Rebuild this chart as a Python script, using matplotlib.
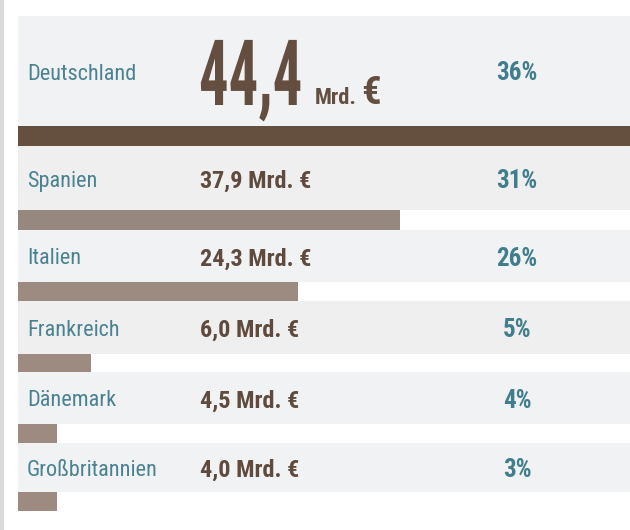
import matplotlib.pyplot as plt
from matplotlib import font_manager
from matplotlib.patheffects import AbstractPathEffect
from matplotlib.transforms import Affine2D

countries = ["Deutschland", "Spanien", "Italien", "Frankreich", "Dänemark", "Großbritannien"]
values = [44.4, 37.9, 24.3, 6.0, 4.5, 4.0]
shares = [36, 31, 26, 5, 4, 3]
# bar lengths, in % of the panel width
bar_len = [100, 62.4, 45.8, 11.9, 6.4, 6.4]

# row layout in pixels (top of the grey band, band height, bar height)
row_top = [16, 146, 230, 301, 372, 443]
row_h = [110, 64, 52, 53, 52, 49]
bar_h = [20, 20, 19, 18, 19, 19]

bg_colors = ["#f1f2f4", "#efefef", "#f1f2f4", "#efefef", "#f1f2f4", "#f1f2f4"]
bar_colors = ["#65503f", "#96887e", "#9d8a80", "#9d8a80", "#9d8a80", "#9d8a80"]
teal = "#4a8291"
brown = "#5f4a3d"

installed = {f.name for f in font_manager.fontManager.ttflist}


def pick(*names):
    for n in names:
        if n in installed:
            return n
    return "DejaVu Sans"


narrow = pick("Roboto Condensed", "Liberation Sans Narrow", "Noto Sans Condensed",
              "Open Sans Condensed", "DejaVu Sans")


class Stretch(AbstractPathEffect):
    """draw text glyphs stretched vertically around a display y position"""

    def __init__(self, sy, y_anchor):
        super().__init__()
        self.sy = sy
        self.ya = y_anchor

    def draw_path(self, renderer, gc, tpath, affine, rgbFace=None):
        t = affine + Affine2D().translate(0, -self.ya).scale(1, self.sy).translate(0, self.ya)
        renderer.draw_path(gc, tpath, t, rgbFace)


W, H = 630, 530
fig = plt.figure(figsize=(W / 100, H / 100), dpi=100)

# panel axes: bars on a 0..100 scale
x0 = 18
axb = fig.add_axes([x0 / W, 0, (W - x0) / W, 1])
axb.set_xlim(0, 100)
axb.set_ylim(H, 0)
axb.axis("off")

# layout axes in pixel coordinates, on top for the texts
ax = fig.add_axes([0, 0, 1, 1])
ax.set_xlim(0, W)
ax.set_ylim(H, 0)
ax.axis("off")
ax.set_zorder(3)

axb.barh(row_top, [100] * len(row_top), height=row_h, left=0, align="edge",
         color=bg_colors, linewidth=0, zorder=1)
bar_top = [t + h for t, h in zip(row_top, row_h)]
axb.barh(bar_top, bar_len, height=bar_h, left=0, align="edge",
         color=bar_colors, linewidth=0, zorder=2)

# left grey border
ax.axvline(1.5, color="#d9d9d9", lw=3, zorder=0)

for i, (c, v, s) in enumerate(zip(countries, values, shares)):
    yc = row_top[i] + row_h[i] / 2
    ax.text(27, yc + 8.5, c, fontsize=16, color=teal, family=narrow,
            va="baseline", ha="left", zorder=5)
    ax.text(517, yc + 9.5, f"{s}%", fontsize=18, color="#407e8d", family=narrow,
            fontweight="bold", va="baseline", ha="center", zorder=5)
    if i == 0:
        continue
    txt = f"{v:.1f}".replace(".", ",") + " Mrd. €"
    ax.text(200, yc + 9.5, txt, fontsize=17.5, color=brown, family=narrow,
            fontweight="bold", va="baseline", ha="left", zorder=5)

# headline figure for the first row, tall and narrow like the original type
xbig, ybig = 199, 105
y_disp = ax.transData.transform((xbig, ybig))[1]
big = ax.text(xbig, ybig, f"{values[0]:.1f}".replace(".", ","), fontsize=42.2,
              color="#634e40", family=narrow, fontweight="bold",
              va="baseline", ha="left", zorder=5,
              path_effects=[Stretch(1.5625, y_disp)])
fig.canvas.draw()
bb = big.get_window_extent().transformed(ax.transData.inverted())
mrd = ax.text(bb.x1 + 12, 104, "Mrd.", fontsize=16, color="#634e40", family=narrow,
              fontweight="bold", va="baseline", ha="left", zorder=5)
fig.canvas.draw()
bb2 = mrd.get_window_extent().transformed(ax.transData.inverted())
ax.text(bb2.x1 + 5, 104, "€", fontsize=28, color="#634e40", family=narrow,
        fontweight="bold", va="baseline", ha="left", zorder=5)

fig.savefig("out.png", dpi=100, facecolor="white")
